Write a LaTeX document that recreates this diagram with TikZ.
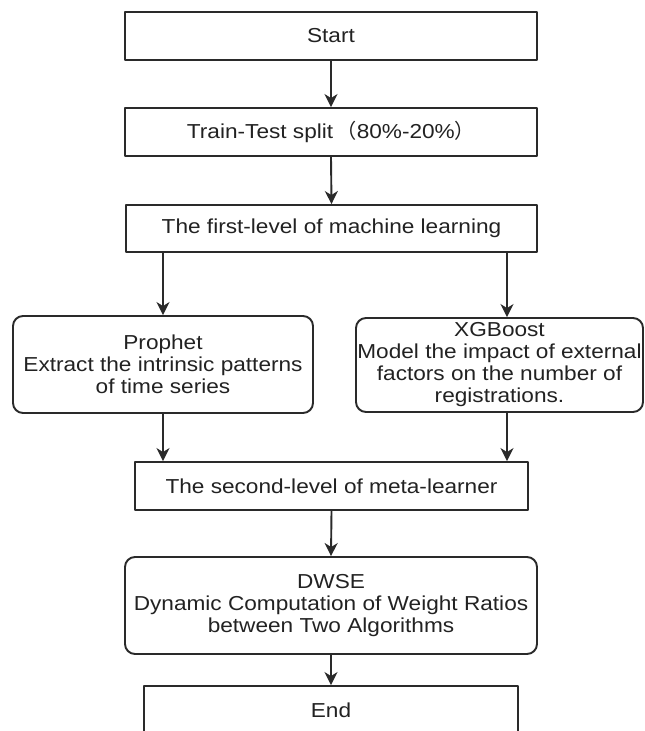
\documentclass[tikz,border=0pt]{standalone}
\usepackage{fontspec}
\setmainfont{Liberation Sans}[FakeStretch=1.12]
\newfontfamily\cjk{Noto Sans CJK SC}
\usetikzlibrary{positioning, arrows.meta, calc}
\definecolor{flowink}{HTML}{2A2A2A}
\definecolor{flowtxt}{HTML}{222222}

\begin{document}
\begin{tikzpicture}[
  x=1pt, y=-1pt,
  line width=1.9pt, line cap=round, line join=round,
  >={Stealth[length=13pt, width=13pt, inset=4pt]},
  box/.style = {draw=flowink, line width=1.9pt, fill=white,
                minimum height=48pt, inner sep=1pt,
                anchor=center, align=center, text=flowtxt,
                font=\fontsize{20.2}{22}\selectfont},
  rbox/.style = {box, rounded corners=10pt},
  flow/.style = {->, draw=flowink, line width=1.9pt}
]
\useasboundingbox (0,0) rectangle (645,731);
\clip (0,0) rectangle (645,731);

\node[box, minimum width=412pt] (start) at (331,36) {Start};
\node[box, minimum width=412pt] (split) at (331,132)
  {Train-Test split\,{\cjk（}80\%-20\%{\cjk）}};
\node[box, minimum width=411pt, minimum height=47pt] (first) at (331.5,228.5)
  {The first-level of machine learning};
\node[rbox, minimum width=300pt, minimum height=97pt] (prophet) at (163,364.5)
  {Prophet\\Extract the intrinsic patterns\\of time series};
\node[rbox, minimum width=287pt, minimum height=94pt, inner sep=0pt] (xgb) at (499.5,365)
  {XGBoost\\Model the impact of external\\factors on the number of\\registrations.};
\node[box, minimum width=393pt] (second) at (331.5,486)
  {The second-level of meta-learner};
\node[rbox, minimum width=412pt, minimum height=97pt] (dwse) at (331,605.5)
  {DWSE\\Dynamic Computation of Weight Ratios\\between Two Algorithms};
\node[box, minimum width=374pt] (end) at (331,710) {End};

\coordinate (xgbx) at (507,0);

% main column
\draw[flow] (start.south) -- (split.north);
\draw[flow] (split.south) -- (first.north);

% first level branches
\draw[flow] (first.south -| prophet.north) -- (prophet.north);
\draw[flow] (first.south -| xgbx) -- (xgb.north -| xgbx);

% into meta-learner
\draw[flow] (prophet.south) -- (prophet.south |- second.north);
\draw[flow] (xgb.south -| xgbx) -- (second.north -| xgbx);

\draw[flow] (second.south) -- (dwse.north);
\draw[flow] (dwse.south) -- (end.north);

\end{tikzpicture}
\end{document}
